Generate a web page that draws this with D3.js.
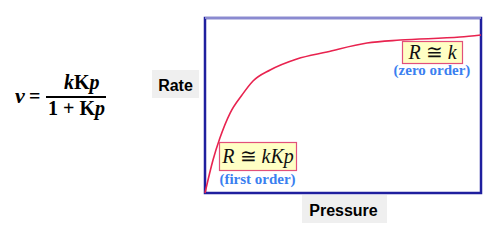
<!DOCTYPE html>
<html>
<head>
<meta charset="utf-8">
<script src="https://cdn.jsdelivr.net/npm/d3@7"></script>
<style>
  html, body { margin: 0; padding: 0; background: #fff; }
  svg { display: block; }
</style>
</head>
<body>
<svg id="chart" width="502" height="242"></svg>
<script>
// Data (pressure vs. rate, arbitrary units 0-100)
const pressure = [0, 2.9, 5.4, 9.1, 13.4, 17.4, 23.6, 33.3, 44.2, 58.7, 70.7, 92.4, 100];
const rate     = [0, 18.9, 31.4, 45.7, 56, 64, 70.3, 76.6, 80.6, 85.7, 87.4, 89.1, 90.3];
const xDomain = [0, 100];
const yDomain = [0, 100];
const axisLabels = ["Pressure", "Rate"];
const regimeLabels = ["(first order)", "(zero order)"];

const svg = d3.select("#chart");
const x = d3.scaleLinear().domain(xDomain).range([205, 481]);
const y = d3.scaleLinear().domain(yDomain).range([193, 18]);

// Formula
const serif = "'Liberation Serif', 'Times New Roman', serif";
const f = svg.append("g").attr("font-family", serif).attr("font-weight", "bold").attr("font-size", 20).attr("fill", "#000");
f.append("text").attr("x", 15).attr("y", 103).attr("font-size", 22).attr("font-style", "italic").text("ν");
f.append("text").attr("x", 29).attr("y", 103).text("=");
const num = f.append("text").attr("x", 64).attr("y", 89);
num.append("tspan").attr("font-style", "italic").text("k");
num.append("tspan").text("K");
num.append("tspan").attr("font-style", "italic").text("p");
f.append("line").attr("x1", 46).attr("x2", 106).attr("y1", 97).attr("y2", 97).attr("stroke", "#000").attr("stroke-width", 2);
const den = f.append("text").attr("x", 48).attr("y", 115);
den.append("tspan").text("1 + K");
den.append("tspan").attr("font-style", "italic").text("p");

// Axis label boxes
const sans = "'Liberation Sans', Arial, sans-serif";
svg.append("rect").attr("x", 152).attr("y", 70).attr("width", 47).attr("height", 28).attr("fill", "#efefef");
svg.append("text").attr("x", 175.5).attr("y", 91).attr("text-anchor", "middle")
  .attr("font-family", sans).attr("font-weight", "bold").attr("font-size", 16).text(axisLabels[1]);
svg.append("rect").attr("x", 302).attr("y", 195).attr("width", 85).attr("height", 28).attr("fill", "#efefef");
svg.append("text").attr("x", 343.5).attr("y", 216).attr("text-anchor", "middle")
  .attr("font-family", sans).attr("font-weight", "bold").attr("font-size", 16).text(axisLabels[0]);

// Plot frame
svg.append("rect").attr("x", x(xDomain[0])).attr("y", y(yDomain[1]))
  .attr("width", x(xDomain[1]) - x(xDomain[0])).attr("height", y(yDomain[0]) - y(yDomain[1]))
  .attr("fill", "#fff").attr("stroke", "#1f1f9e").attr("stroke-width", 2.5);
svg.append("line").attr("x1", x(xDomain[0])).attr("x2", x(xDomain[1]))
  .attr("y1", y(yDomain[1])).attr("y2", y(yDomain[1]))
  .attr("stroke", "#8a8ad0").attr("stroke-width", 2);

// Curve
const line = d3.line().x((d, i) => x(pressure[i])).y(d => y(d)).curve(d3.curveMonotoneX);
svg.append("path").datum(rate).attr("d", line).attr("fill", "none")
  .attr("stroke", "#e8234f").attr("stroke-width", 1.6);

// Annotation boxes
function annot(bx, by, bw, bh, parts, tx, ty, sub, sx, sy) {
  svg.append("rect").attr("x", bx).attr("y", by).attr("width", bw).attr("height", bh)
    .attr("fill", "#ffffc4").attr("stroke", "#e2507a").attr("stroke-width", 1.2);
  const t = svg.append("text").attr("x", tx).attr("y", ty).attr("font-family", serif)
    .attr("font-size", 20).attr("fill", "#111").attr("text-anchor", "middle");
  parts.forEach(p => t.append("tspan").attr("font-style", p[1] ? "italic" : "normal").text(p[0]));
  svg.append("text").attr("x", sx).attr("y", sy).attr("text-anchor", "middle").attr("font-family", serif)
    .attr("font-weight", "bold").attr("font-size", 15).attr("fill", "#3a80f0").text(sub);
}
annot(219.5, 142.5, 77, 28, [["R", 1], [" ≅ ", 0], ["kKp", 1]], 258, 163, regimeLabels[0], 257.5, 184);
annot(402.5, 41.5, 60, 22, [["R", 1], [" ≅ ", 0], [" k", 1]], 432.5, 59, regimeLabels[1], 432, 75);
</script>
</body>
</html>
